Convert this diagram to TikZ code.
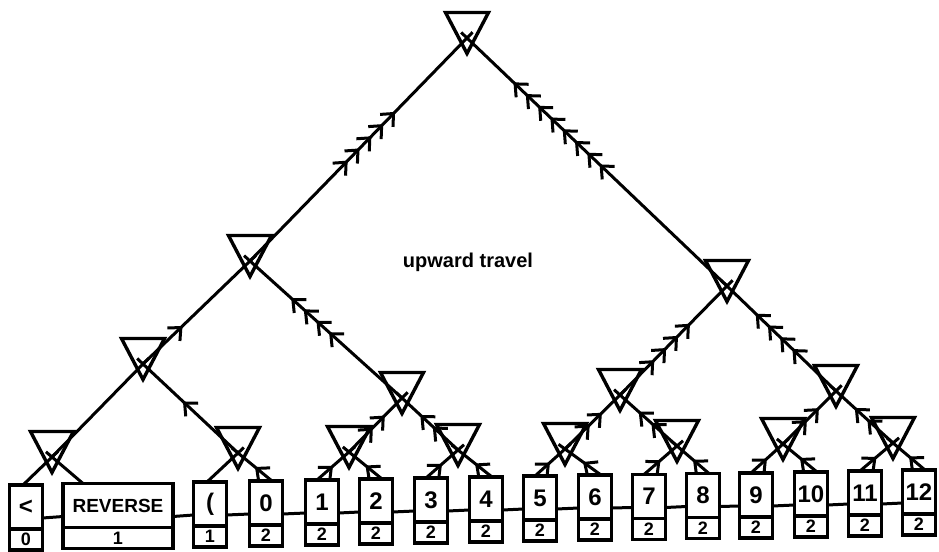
\documentclass[tikz,border=0pt]{standalone}
\usepackage{fontspec}
\setmainfont{Liberation Sans}
\usetikzlibrary{
  arrows.meta,
  positioning,
  decorations.markings
}

\begin{document}
\begin{tikzpicture}[
  x=0.5pt, y=-0.5pt,
  font=\bfseries,
  %% Merge point (triangle is drawn over its corners below)
  merge/.style={
    minimum width=21.5pt,
    minimum height=20.5pt,
    inner sep=0pt,
    outer sep=0pt
  },
  tri/.style={line width=1.7pt, line join=miter},
  %% Token cell (upper part)
  cell/.style={
    draw,
    line width=1.7pt,
    minimum width=16.5pt,
    minimum height=22pt,
    inner sep=0pt,
    outer sep=0pt,
    font=\fontsize{12}{12}\selectfont\bfseries
  },
  %% Count under the token
  cnt/.style={
    draw,
    line width=1.7pt,
    minimum width=16.5pt,
    minimum height=10.5pt,
    inner sep=0pt,
    outer sep=0pt,
    font=\fontsize{9}{9}\selectfont\bfseries
  },
  link/.style={line width=1.5pt},
  edge/.style={line width=1.5pt, shorten >=-4pt},
  feath/.style 2 args={postaction={decorate, decoration={markings,
    mark=between positions #1 and #2 step 8.5pt with
      {\arrow[line width=1.5pt]{Straight Barb[length=5pt, width=9pt]}}}}}
]
\useasboundingbox (0,0) rectangle (939,552);

%% ---- Merge points ----
\node[merge] (root) at (467,33)  {};
\node[merge] (jl)   at (250,256) {};
\node[merge] (jr)   at (727,281) {};
\node[merge] (jll)  at (143,359) {};
\node[merge] (jlr)  at (402,393) {};
\node[merge] (jrl)  at (620,390) {};
\node[merge] (jrr)  at (836,386) {};
\node[merge] (k1)   at (52,452)  {};
\node[merge] (k2)   at (238,448) {};
\node[merge] (k3)   at (349,447) {};
\node[merge] (k4)   at (458,445) {};
\node[merge] (k5)   at (565,444) {};
\node[merge] (k6)   at (677,441) {};
\node[merge] (k7)   at (783,439) {};
\node[merge] (k8)   at (893,438) {};

\foreach \j in {root,jl,jr,jll,jlr,jrl,jrr,k1,k2,k3,k4,k5,k6,k7,k8} {
  \draw[tri] (\j.north west) -- (\j.north east) -- (\j.south) -- cycle;
  \coordinate (\j-x) at ([yshift=-2.5pt]\j.center);
}

%% ---- Token cells (bottom row) ----
\node[cell] (lt)  at (26,507)    {<};
\node[cell, minimum width=55pt] (rev) at (118,505.5) {\fontsize{9.5}{10}\selectfont REVERSE};
\node[cell] (par) at (210,504)   {(};
\node[cell] (n0)  at (266,503)   {0};
\node[cell] (n1)  at (322,502)   {1};
\node[cell] (n2)  at (376,501)   {2};
\node[cell] (n3)  at (431,500)   {3};
\node[cell] (n4)  at (486,499)   {4};
\node[cell] (n5)  at (540,498)   {5};
\node[cell] (n6)  at (595,497)   {6};
\node[cell] (n7)  at (649,496.5) {7};
\node[cell] (n8)  at (703,495.5) {8};
\node[cell] (n9)  at (756,495)   {9};
\node[cell] (n10) at (811,494)   {10};
\node[cell] (n11) at (865,493)   {11};
\node[cell] (n12) at (919,492)   {12};

\node[cnt, below=0pt of lt]  (lt-c)  {0};
\node[cnt, below=0pt of rev, minimum width=55pt] (rev-c) {1};
\node[cnt, below=0pt of par] (par-c) {1};
\node[cnt, below=0pt of n0]  (n0-c)  {2};
\node[cnt, below=0pt of n1]  (n1-c)  {2};
\node[cnt, below=0pt of n2]  (n2-c)  {2};
\node[cnt, below=0pt of n3]  (n3-c)  {2};
\node[cnt, below=0pt of n4]  (n4-c)  {2};
\node[cnt, below=0pt of n5]  (n5-c)  {2};
\node[cnt, below=0pt of n6]  (n6-c)  {2};
\node[cnt, below=0pt of n7]  (n7-c)  {2};
\node[cnt, below=0pt of n8]  (n8-c)  {2};
\node[cnt, below=0pt of n9]  (n9-c)  {2};
\node[cnt, below=0pt of n10] (n10-c) {2};
\node[cnt, below=0pt of n11] (n11-c) {2};
\node[cnt, below=0pt of n12] (n12-c) {2};

%% ---- Chain between cells ----
\draw[link] ([yshift=-5.5pt]lt.east)  -- ([yshift=-5.5pt]rev.west);
\draw[link] ([yshift=-5.5pt]rev.east) -- ([yshift=-5.5pt]par.west);
\draw[link] ([yshift=-5.5pt]par.east) -- ([yshift=-5.5pt]n0.west);
\draw[link] ([yshift=-5.5pt]n0.east)  -- ([yshift=-5.5pt]n1.west);
\draw[link] ([yshift=-5.5pt]n1.east)  -- ([yshift=-5.5pt]n2.west);
\draw[link] ([yshift=-5.5pt]n2.east)  -- ([yshift=-5.5pt]n3.west);
\draw[link] ([yshift=-5.5pt]n3.east)  -- ([yshift=-5.5pt]n4.west);
\draw[link] ([yshift=-5.5pt]n4.east)  -- ([yshift=-5.5pt]n5.west);
\draw[link] ([yshift=-5.5pt]n5.east)  -- ([yshift=-5.5pt]n6.west);
\draw[link] ([yshift=-5.5pt]n6.east)  -- ([yshift=-5.5pt]n7.west);
\draw[link] ([yshift=-5.5pt]n7.east)  -- ([yshift=-5.5pt]n8.west);
\draw[link] ([yshift=-5.5pt]n8.east)  -- ([yshift=-5.5pt]n9.west);
\draw[link] ([yshift=-5.5pt]n9.east)  -- ([yshift=-5.5pt]n10.west);
\draw[link] ([yshift=-5.5pt]n10.east) -- ([yshift=-5.5pt]n11.west);
\draw[link] ([yshift=-5.5pt]n11.east) -- ([yshift=-5.5pt]n12.west);

%% ---- Cells up to first merges ----
\draw[edge] ([xshift=-1.5pt]lt.north) -- (k1-x);
\draw[edge] ([xshift=10pt]rev.north west) -- (k1-x);
\draw[edge] ([xshift=-1.5pt]par.north) -- (k2-x);
\draw[edge, feath={0.5}{0.51}] ([xshift=3pt]n0.north)  -- (k2-x);
\draw[edge, feath={0.5}{0.51}] ([xshift=-2.5pt]n1.north) -- (k3-x);
\draw[edge, feath={0.5}{0.51}] ([xshift=3pt]n2.north)  -- (k3-x);
\draw[edge, feath={0.5}{0.51}] ([xshift=-2.5pt]n3.north) -- (k4-x);
\draw[edge, feath={0.5}{0.51}] ([xshift=3pt]n4.north)  -- (k4-x);
\draw[edge, feath={0.5}{0.51}] ([xshift=-2.5pt]n5.north) -- (k5-x);
\draw[edge, feath={0.5}{0.51}] ([xshift=3pt]n6.north)  -- (k5-x);
\draw[edge, feath={0.5}{0.51}] ([xshift=-2.5pt]n7.north) -- (k6-x);
\draw[edge, feath={0.5}{0.51}] ([xshift=3pt]n8.north)  -- (k6-x);
\draw[edge, feath={0.5}{0.51}] ([xshift=-2.5pt]n9.north) -- (k7-x);
\draw[edge, feath={0.5}{0.51}] ([xshift=3pt]n10.north) -- (k7-x);
\draw[edge, feath={0.5}{0.51}] ([xshift=-2.5pt]n11.north) -- (k8-x);
\draw[edge, feath={0.5}{0.51}] ([xshift=3pt]n12.north) -- (k8-x);

%% ---- Merges up the tree ----
\draw[edge] (k1-x) -- (jll-x);
\draw[edge, feath={0.58}{0.59}] (k2-x) -- (jll-x);
\draw[edge, feath={0.45}{0.7}]  (k3-x) -- (jlr-x);
\draw[edge, feath={0.45}{0.7}]  (k4-x) -- (jlr-x);
\draw[edge, feath={0.45}{0.7}]  (k5-x) -- (jrl-x);
\draw[edge, feath={0.45}{0.7}]  (k6-x) -- (jrl-x);
\draw[edge, feath={0.45}{0.7}]  (k7-x) -- (jrr-x);
\draw[edge, feath={0.45}{0.7}]  (k8-x) -- (jrr-x);

\draw[edge, feath={0.37}{0.38}] (jll-x) -- (jl-x);
\draw[edge, feath={0.48}{0.75}] (jlr-x) -- (jl-x);
\draw[edge, feath={0.32}{0.67}] (jrl-x) -- (jr-x);
\draw[edge, feath={0.40}{0.75}] (jrr-x) -- (jr-x);

\draw[edge, feath={0.45}{0.69}] (jl-x) -- (root-x);
\draw[edge, feath={0.49}{0.83}] (jr-x) -- (root-x);

%% ---- Label ----
\node[font=\fontsize{10}{12}\selectfont\bfseries] (travel) at (468,262) {upward travel};

\end{tikzpicture}
\end{document}
